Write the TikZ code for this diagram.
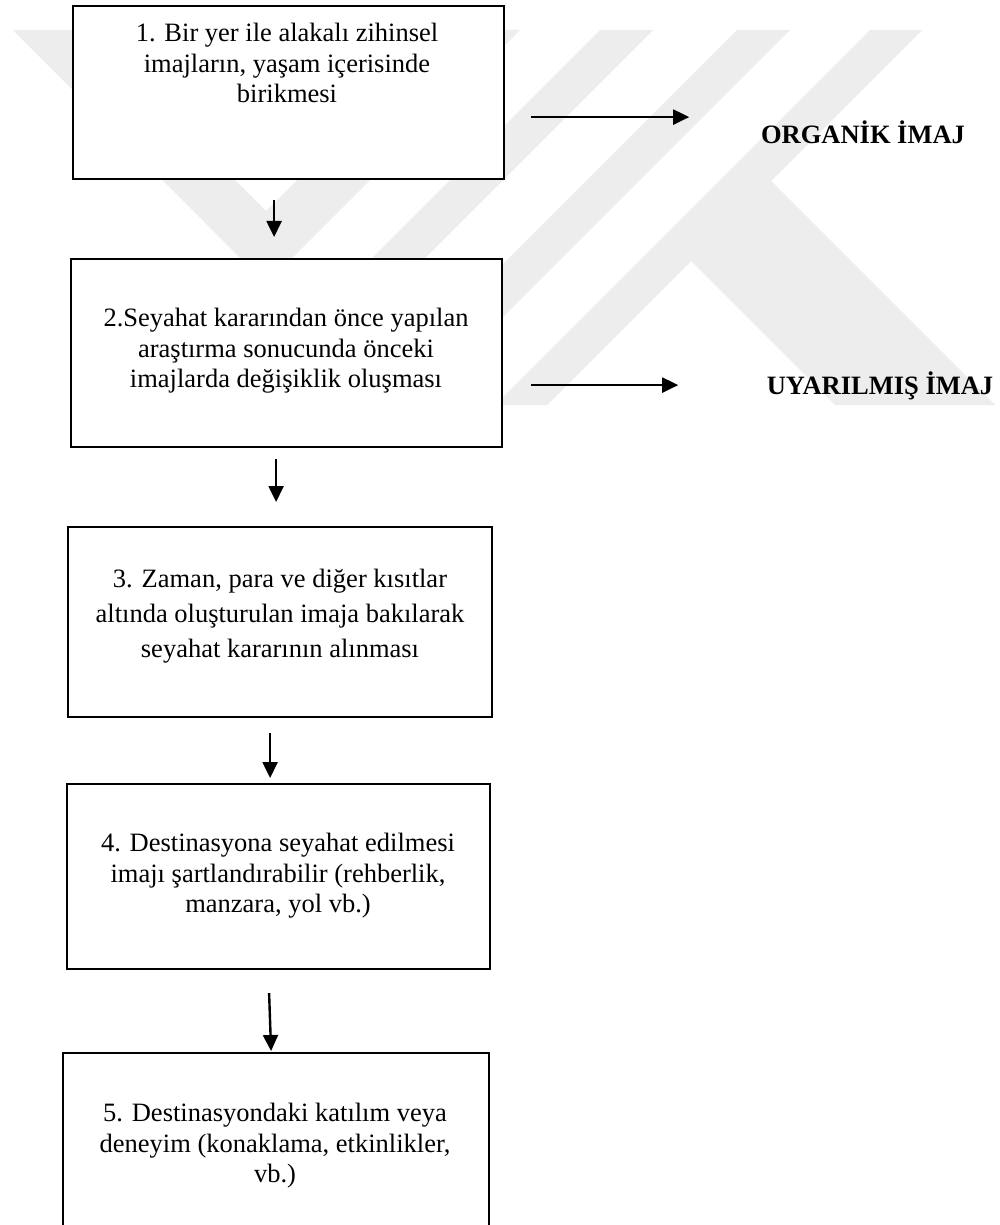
\documentclass[tikz,border=0pt]{standalone}
\usepackage{fontspec}
\setmainfont{Liberation Serif}
\usetikzlibrary{arrows.meta,calc}
\definecolor{markgrey}{gray}{0.93}
\tikzset{
  stepbox/.style={draw=black, line width=1.1pt, fill=white, rectangle,
    inner sep=0pt, anchor=north west},
  steptext/.style={align=center, inner sep=0pt,
    font=\fontsize{13.25}{15.25}\selectfont},
  imglabel/.style={inner sep=0pt, anchor=base,
    font=\bfseries\fontsize{13.25}{15.25}\selectfont},
  flow/.style={line width=1.2pt, -{Triangle[length=8pt,width=7.5pt]}},
  wmark/.style={fill=markgrey, draw=none}
}
\begin{document}
\begin{tikzpicture}[x=0.5pt,y=-0.5pt]
\useasboundingbox (0,0) rectangle (1000,1225);
\fill[white] (0,0) rectangle (1000,1225);

% background emblem
\fill[wmark] (13,30) -- (85,30) -- (266,211) -- (448,30) -- (520,30) -- (266,284) -- cycle;
\fill[wmark] (600,30) -- (653,30) -- (278,405) -- (225,405) -- cycle;
\fill[wmark] (737,30) -- (790,30) -- (415,405) -- (362,405) -- cycle;
\fill[wmark] (870,30) -- (922,30) -- (547,405) -- (495,405) -- cycle;
\fill[wmark] (771,181) -- (995,405) -- (835,405) -- (691,261) -- cycle;

% boxes
\node[stepbox, minimum width=215.5pt, minimum height=86.5pt] (b1) at (72,5) {};
\node[stepbox, minimum width=215.5pt, minimum height=94pt]   (b2) at (70,258) {};
\node[stepbox, minimum width=212pt,   minimum height=95pt]   (b3) at (67,526) {};
\node[stepbox, minimum width=211.5pt, minimum height=92.5pt] (b4) at (66,783) {};
\node[stepbox, minimum width=213pt,   minimum height=94pt]   (b5) at (62,1052) {};

% box texts
\node[steptext] (t1) at (287,63) {1. Bir yer ile alakalı zihinsel\\imajların, yaşam içerisinde\\birikmesi};
\node[steptext] (t2) at (286,351) {2.Seyahat kararından önce yapılan\\araştırma sonucunda önceki\\imajlarda değişiklik oluşması};
\node[steptext, font=\fontsize{13.25}{17.5}\selectfont] (t3) at (280,616) {3. Zaman, para ve diğer kısıtlar\\altında oluşturulan imaja bakılarak\\seyahat kararının alınması};
\node[steptext] (t4) at (278,876) {4. Destinasyona seyahat edilmesi\\imajı şartlandırabilir (rehberlik,\\manzara, yol vb.)};
\node[steptext] (t5) at (275,1146) {5. Destinasyondaki katılım veya\\deneyim (konaklama, etkinlikler,\\vb.)};

% side labels
\node[imglabel] (org) at (863,144) {ORGANİK İMAJ};
\node[imglabel] (uya) at (880,394) {UYARILMIŞ İMAJ};

% arrow end points
\coordinate (d1s) at ($(b1.south)+(-14.5,20)$);
\coordinate (d1e) at ($(b2.north)+(-12.5,-21)$);
\coordinate (d2s) at ($(b2.south)+(-10.5,11)$);
\coordinate (d2e) at ($(b3.north)+(-4,-24)$);
\coordinate (d3s) at ($(b3.south)+(-10,15)$);
\coordinate (d3e) at ($(b4.north)+(-8.5,-5)$);
\coordinate (d4s) at ($(b4.south)+(-9.5,23)$);
\coordinate (d4e) at ($(b5.north)+(-5,-1)$);
\coordinate (h1s) at ($(b1.east)+(26,24.5)$);
\coordinate (h1e) at ($(h1s)+(158,0)$);
\coordinate (h2s) at ($(b2.east)+(28,32)$);
\coordinate (h2e) at ($(h2s)+(147,0)$);

% connectors
\draw[flow] (d1s) -- (d1e);
\draw[flow] (d2s) -- (d2e);
\draw[flow] (d3s) -- (d3e);
\draw[flow] (d4s) -- (d4e);
\draw[flow] (h1s) -- (h1e);
\draw[flow] (h2s) -- (h2e);
\end{tikzpicture}
\end{document}
